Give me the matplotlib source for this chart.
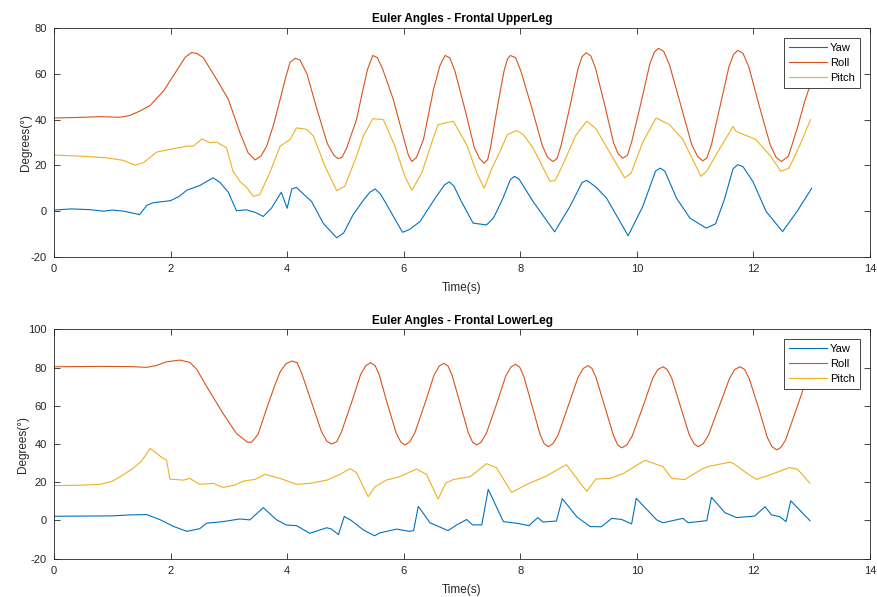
import matplotlib
matplotlib.use("Agg")
import matplotlib.pyplot as plt

# MATLAB default line colours
c_yaw = '#0072BD'
c_roll = '#D95319'
c_pitch = '#EDB120'

# ---- Frontal UpperLeg ----
up_yaw_t = [0.0, 0.3, 0.6, 0.85, 1.0, 1.2, 1.47, 1.59, 1.7, 2.0, 2.15, 2.28, 2.5, 2.73, 2.85, 2.99,
            3.13, 3.3, 3.45, 3.59, 3.73, 3.9, 4.0, 4.08, 4.16, 4.3, 4.42, 4.62, 4.85, 4.97, 5.13, 5.3,
            5.42, 5.51, 5.6, 5.71, 5.85, 5.98, 6.1, 6.28, 6.54, 6.7, 6.78, 6.86, 6.99, 7.19, 7.42, 7.54,
            7.7, 7.83, 7.9, 7.98, 8.22, 8.59, 8.85, 9.06, 9.14, 9.3, 9.48, 9.85, 10.1, 10.32, 10.4, 10.48,
            10.68, 10.91, 11.19, 11.35, 11.5, 11.65, 11.73, 11.82, 11.99, 12.22, 12.5, 12.75, 13.0]
up_yaw = [0.5, 1.0, 0.7, 0.0, 0.5, 0.0, -1.5, 2.5, 3.7, 4.6, 6.5, 9.2, 11.2, 14.6, 12.5, 8.3,
          0.2, 0.6, -0.5, -2.3, 1.3, 8.3, 1.3, 9.7, 10.4, 7.0, 4.2, -5.3, -11.6, -9.5, -1.6, 4.5,
          8.3, 9.7, 7.5, 2.8, -3.5, -9.2, -8.0, -4.5, 5.7, 11.5, 12.8, 11.0, 4.2, -5.2, -6.0, -3.0,
          5.5, 13.8, 15.2, 14.0, 4.2, -9.0, 2.0, 12.5, 13.5, 10.5, 5.7, -10.7, 2.0, 17.5, 18.8, 17.5,
          5.7, -3.0, -7.4, -5.5, 5.0, 18.5, 20.3, 19.5, 13.0, -0.2, -8.9, 0.0, 10.0]

up_roll_t = [0.0, 0.5, 0.8, 1.13, 1.3, 1.47, 1.65, 1.88, 2.1, 2.25, 2.36, 2.45, 2.56, 2.79, 2.99, 3.19,
             3.33, 3.45, 3.55, 3.65, 3.77, 3.88, 3.97, 4.05, 4.14, 4.22, 4.34, 4.5, 4.69, 4.8, 4.87, 4.94,
             5.02, 5.19, 5.3, 5.38, 5.47, 5.55, 5.64, 5.82, 6.02, 6.08, 6.14, 6.22, 6.34, 6.51, 6.62,
             6.71, 6.79, 6.88, 7.05, 7.21, 7.3, 7.38, 7.44, 7.49, 7.6, 7.72, 7.78, 7.83, 7.92, 8.01,
             8.2, 8.38, 8.47, 8.56, 8.63, 8.7, 8.85, 8.99, 9.06, 9.13, 9.21, 9.29, 9.45, 9.6, 9.68,
             9.76, 9.84, 9.91, 10.07, 10.22, 10.3, 10.37, 10.46, 10.56, 10.75, 10.94, 11.04, 11.13,
             11.2, 11.28, 11.43, 11.58, 11.66, 11.73, 11.82, 11.92, 12.1, 12.29, 12.39, 12.48, 12.6,
             12.75, 12.88, 13.0]
up_roll = [40.7, 41.0, 41.3, 41.0, 41.8, 43.7, 46.2, 52.5, 61.2, 67.2, 69.3, 68.9, 67.1, 57.6, 48.9, 34.3,
           25.5, 22.4, 24.0, 28.5, 38.0, 48.9, 58.0, 65.0, 66.8, 66.0, 60.0, 45.5, 29.5, 24.5, 23.0, 23.5,
           27.5, 40.0, 53.0, 62.0, 68.0, 67.0, 62.0, 48.9, 30.0, 24.5, 21.7, 23.5, 31.4, 53.0, 63.5,
           68.0, 67.0, 61.1, 44.5, 27.9, 23.0, 21.0, 22.5, 27.9, 44.5, 61.1, 66.5, 68.0, 67.0, 61.2,
           44.9, 28.5, 23.5, 21.7, 23.0, 28.7, 45.5, 62.2, 67.5, 69.2, 67.8, 62.5, 46.2, 29.9, 25.0,
           23.2, 24.5, 30.2, 47.2, 64.1, 69.5, 71.1, 69.8, 63.9, 46.6, 29.2, 24.0, 22.0,
           23.2, 29.1, 46.1, 63.1, 68.5, 70.2, 69.0, 63.1, 46.0, 28.8, 23.5, 21.7, 24.0,
           36.0, 48.0, 57.0]

up_pitch_t = [0.0, 0.5, 0.9, 1.19, 1.39, 1.53, 1.65, 1.76, 1.99, 2.28, 2.39, 2.54, 2.68, 2.79, 2.96, 3.07,
              3.19, 3.3, 3.42, 3.53, 3.7, 3.88, 4.05, 4.16, 4.34, 4.45, 4.65, 4.85, 4.99, 5.19, 5.31,
              5.47, 5.65, 5.85, 6.02, 6.14, 6.31, 6.48, 6.59, 6.85, 7.08, 7.25, 7.38, 7.5, 7.65, 7.78,
              7.94, 8.05, 8.22, 8.51, 8.6, 8.73, 8.95, 9.14, 9.3, 9.55, 9.79, 9.9, 10.1, 10.33, 10.56,
              10.79, 11.1, 11.2, 11.36, 11.65, 11.7, 12.04, 12.3, 12.47, 12.61, 12.8, 12.98]
up_pitch = [24.5, 24.0, 23.3, 22.2, 20.1, 21.1, 23.5, 25.8, 27.0, 28.4, 28.4, 31.6, 29.9, 30.2, 27.7, 17.5,
            13.0, 10.5, 6.5, 7.2, 16.7, 28.4, 31.3, 36.4, 35.7, 32.8, 19.6, 9.0, 10.9, 24.0, 33.0,
            40.4, 40.0, 28.4, 15.2, 9.2, 16.7, 29.9, 37.8, 39.3, 29.0, 17.0, 10.0, 18.0, 26.0, 33.5,
            35.2, 33.5, 27.6, 13.0, 13.5, 20.3, 33.0, 39.3, 36.0, 25.0, 14.6, 16.5, 30.0, 40.7, 37.8,
            31.3, 15.2, 17.5, 24.7, 37.0, 34.9, 31.3, 23.9, 17.4, 18.8, 29.0, 40.0]

# ---- Frontal LowerLeg ----
lo_yaw_t = [0.0, 0.5, 1.0, 1.3, 1.59, 1.82, 2.05, 2.28, 2.5, 2.62, 2.9, 3.19, 3.36, 3.59, 3.82, 3.99,
            4.16, 4.39, 4.68, 4.76, 4.88, 4.98, 5.1, 5.31, 5.5, 5.59, 5.88, 6.1, 6.17, 6.25, 6.45, 6.76,
            6.91, 7.08, 7.18, 7.34, 7.45, 7.71, 7.97, 8.15, 8.3, 8.39, 8.62, 8.72, 8.97, 9.2, 9.39,
            9.57, 9.74, 9.91, 9.99, 10.34, 10.45, 10.79, 10.88, 11.2, 11.28, 11.51, 11.71, 12.02, 12.2,
            12.31, 12.45, 12.56, 12.64, 12.97]
lo_yaw = [2.2, 2.3, 2.4, 2.9, 3.1, 0.4, -3.1, -5.7, -4.3, -1.4, -0.6, 0.8, 0.3, 6.7, 0.3, -2.4,
          -2.7, -6.7, -3.8, -4.5, -7.4, 2.1, 0.0, -5.0, -8.0, -6.5, -4.5, -5.7, -5.3, 7.4, -1.2, -5.3,
          -2.3, 0.5, -2.3, -2.3, 16.3, -0.6, -1.6, -2.7, 1.5, -0.8, -0.3, 11.4, 1.9, -3.2, -3.3,
          1.1, 0.5, -1.8, 11.6, 0.3, -1.2, 1.1, -1.2, -0.1, 12.1, 4.1, 1.5, 2.3, 7.2,
          2.9, 2.0, -0.6, 10.3, -0.1]

lo_roll_t = [0.0, 0.8, 1.3, 1.59, 1.75, 1.93, 2.16, 2.33, 2.45, 2.62, 2.9, 3.13, 3.32, 3.39, 3.5, 3.65,
             3.78, 3.88, 3.98, 4.08, 4.17, 4.25, 4.42, 4.59, 4.68, 4.76, 4.85, 4.93, 5.1, 5.26, 5.35,
             5.43, 5.51, 5.58, 5.72, 5.87, 5.95, 6.02, 6.1, 6.19, 6.36, 6.52, 6.61, 6.69, 6.76, 6.83,
             6.97, 7.11, 7.18, 7.25, 7.33, 7.42, 7.59, 7.75, 7.84, 7.92, 7.99, 8.06, 8.2, 8.34, 8.41,
             8.48, 8.56, 8.65, 8.82, 8.99, 9.08, 9.16, 9.23, 9.3, 9.45, 9.6, 9.67, 9.74, 9.83, 9.92,
             10.1, 10.27, 10.36, 10.45, 10.52, 10.6, 10.75, 10.9, 10.98, 11.05, 11.14, 11.23, 11.41,
             11.59, 11.68, 11.77, 11.85, 11.93, 12.09, 12.24, 12.32, 12.4, 12.47, 12.55, 12.7, 12.85,
             13.0]
lo_roll = [80.4, 80.6, 80.5, 80.1, 81.0, 83.0, 83.9, 82.7, 79.0, 70.0, 56.0, 45.5, 40.9, 41.0, 45.0, 58.7,
           70.0, 77.8, 82.0, 83.4, 82.6, 77.0, 61.7, 46.4, 41.5, 40.0, 41.2, 46.2, 61.2, 76.3, 81.0,
           82.5, 81.0, 76.2, 61.0, 45.8, 41.0, 39.5, 41.0, 45.8, 60.9, 76.0, 80.8, 82.2, 80.8, 76.0,
           60.9, 45.8, 41.0, 39.5, 41.0, 45.7, 60.6, 75.5, 80.3, 81.7, 80.2, 75.4, 60.2, 44.9, 40.2,
           38.6, 40.2, 44.8, 59.8, 74.8, 79.5, 81.0, 79.5, 74.7, 59.5, 44.3, 39.6, 38.0, 39.6, 44.2,
           59.2, 74.2, 79.0, 80.4, 79.0, 74.3, 59.5, 44.7, 40.2, 38.6, 40.2, 44.7, 59.5,
           74.3, 79.0, 80.4, 79.0, 74.0, 58.7, 43.3, 38.6, 36.9, 38.2, 42.0, 55.0, 68.3,
           76.0]

lo_pitch_t = [0.0, 0.4, 0.79, 1.0, 1.13, 1.36, 1.5, 1.65, 1.76, 1.87, 1.93, 1.99, 2.22, 2.33, 2.5, 2.73,
              2.9, 3.1, 3.25, 3.45, 3.62, 3.88, 4.16, 4.39, 4.68, 4.9, 5.08, 5.19, 5.39, 5.51, 5.71,
              5.93, 6.22, 6.39, 6.59, 6.72, 6.85, 7.14, 7.42, 7.59, 7.85, 8.13, 8.45, 8.79, 9.14, 9.3,
              9.54, 9.77, 10.14, 10.45, 10.6, 10.82, 11.14, 11.25, 11.6, 11.68, 11.85, 12.05, 12.28,
              12.62, 12.76, 12.97]
lo_pitch = [18.2, 18.4, 18.9, 20.5, 22.8, 27.3, 31.0, 37.7, 35.1, 32.5, 31.6, 21.6, 21.1, 22.0, 18.9, 19.4,
            17.3, 18.5, 20.6, 21.5, 24.1, 22.0, 18.9, 19.4, 21.1, 24.0, 27.1, 25.0, 12.4, 17.7, 21.2,
            22.9, 26.9, 24.1, 11.2, 19.5, 21.4, 22.9, 29.7, 27.6, 14.7, 19.1, 23.3, 29.2, 15.2, 21.7,
            22.0, 24.6, 31.5, 28.1, 22.0, 21.4, 27.3, 28.4, 30.5, 29.4, 25.5, 21.5, 23.8,
            27.7, 26.7, 19.5]

xticks = [0, 2, 4, 6, 8, 10, 12, 14]

plt.rcParams['font.family'] = ['Liberation Sans', 'DejaVu Sans']
plt.rcParams['axes.unicode_minus'] = False

fig = plt.figure(figsize=(8.77, 5.97), dpi=100)
ax1 = fig.add_axes([54 / 877, 1 - 257 / 597, 816 / 877, 229 / 597])
ax2 = fig.add_axes([54 / 877, 1 - 558.7 / 597, 816 / 877, 229.4 / 597])

panels = [
    (ax1, 'Euler Angles - Frontal UpperLeg', (up_yaw_t, up_yaw), (up_roll_t, up_roll),
     (up_pitch_t, up_pitch), (-20, 80), [-20, 0, 20, 40, 60, 80]),
    (ax2, 'Euler Angles - Frontal LowerLeg', (lo_yaw_t, lo_yaw), (lo_roll_t, lo_roll),
     (lo_pitch_t, lo_pitch), (-20, 100), [-20, 0, 20, 40, 60, 80, 100]),
]

for ax, title, yaw, roll, pitch, ylim, yticks in panels:
    ax.plot(yaw[0], yaw[1], color=c_yaw, lw=0.8, label='Yaw')
    ax.plot(roll[0], roll[1], color=c_roll, lw=0.8, label='Roll')
    ax.plot(pitch[0], pitch[1], color=c_pitch, lw=0.8, label='Pitch')
    ax.set_xlim(0, 14)
    ax.set_ylim(*ylim)
    ax.set_xticks(xticks)
    ax.set_yticks(yticks)
    ax.tick_params(direction='in', top=True, right=True, length=4, width=0.6,
                   labelsize=8, colors='#262626', pad=5)
    for s in ax.spines.values():
        s.set_color('#262626')
        s.set_linewidth(0.6)
    ax.set_title(title, fontsize=8.5, fontweight='bold', color='black', pad=4)
    ax.set_xlabel('Time(s)', fontsize=8.5, color='#262626', labelpad=6)
    ax.set_ylabel('Degrees(°)', fontsize=8.5, color='#262626', labelpad=-0.5)
    leg = ax.legend(loc='upper right', fontsize=8, handlelength=3.4, labelspacing=0.45,
                    fancybox=False, framealpha=1, edgecolor='#262626', borderaxespad=0.9,
                    borderpad=0.45, handletextpad=0.3)
    leg.get_frame().set_linewidth(0.6)

fig.savefig('out.png', dpi=100)
